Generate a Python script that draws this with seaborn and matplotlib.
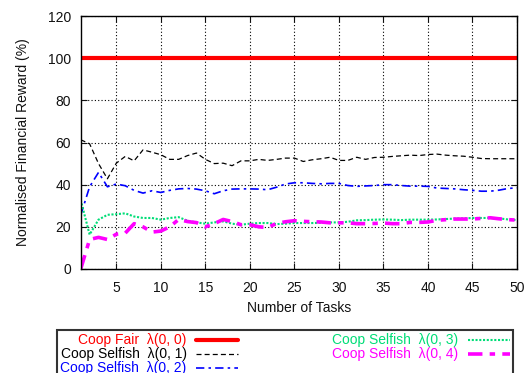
import numpy as np
import pandas as pd
import matplotlib
matplotlib.use("Agg")
import matplotlib.pyplot as plt
import seaborn as sns

tasks = list(range(1, 51))

fair = [100.0] * 50

selfish1 = [61.3, 59.4, 50.0, 42.8, 50.2, 53.4, 51.3, 56.5, 55.4, 54.2,
            52.0, 52.0, 53.8, 55.0, 52.0, 50.0, 50.2, 49.0, 51.3, 51.3,
            52.0, 51.5, 52.0, 52.6, 52.6, 51.0, 51.8, 52.3, 53.0, 51.5,
            51.5, 53.0, 52.0, 52.9, 53.0, 53.4, 53.7, 54.0, 53.8, 54.3,
            54.5, 54.0, 53.7, 53.5, 53.0, 52.4, 52.3, 52.3, 52.3, 52.3]

selfish2 = [25.5, 39.0, 45.8, 39.0, 40.3, 39.5, 37.3, 36.0, 37.1, 36.3,
            37.3, 38.0, 38.2, 37.9, 37.1, 35.7, 37.1, 37.9, 38.0, 38.0,
            37.9, 37.6, 38.8, 40.3, 40.9, 40.9, 40.6, 40.4, 40.6, 40.6,
            39.6, 39.2, 39.4, 39.6, 40.0, 40.0, 39.6, 39.3, 39.3, 39.2,
            38.4, 38.2, 38.0, 37.6, 37.3, 36.9, 36.9, 37.4, 38.2, 38.5]

selfish3 = [32.8, 16.3, 23.4, 25.7, 26.0, 26.4, 24.9, 24.2, 24.2, 23.4,
            24.2, 24.6, 22.9, 22.1, 21.5, 22.1, 22.6, 21.5, 21.0, 21.5,
            21.8, 21.8, 21.3, 21.5, 21.8, 21.8, 21.8, 21.9, 22.1, 22.1,
            22.4, 23.1, 23.2, 23.4, 23.5, 23.4, 23.2, 23.4, 23.4, 23.4,
            23.5, 23.7, 23.9, 24.0, 24.2, 24.2, 24.2, 24.0, 23.5, 23.2]

selfish4 = [0.0, 14.0, 15.0, 14.0, 16.5, 17.0, 21.5, 20.0, 17.5, 18.0,
            20.0, 23.5, 22.5, 22.0, 20.0, 21.5, 23.5, 22.5, 21.0, 21.0,
            20.0, 19.7, 21.6, 22.4, 22.9, 22.6, 22.4, 22.3, 21.9, 21.9,
            21.9, 21.5, 21.5, 21.6, 21.8, 21.5, 21.5, 22.1, 22.1, 22.3,
            23.1, 23.4, 23.7, 23.7, 23.7, 24.0, 24.3, 23.8, 23.4, 23.2]

labels = ["Coop Fair  \u03bb(0, 0)", "Coop Selfish  \u03bb(0, 1)",
          "Coop Selfish  \u03bb(0, 2)", "Coop Selfish  \u03bb(0, 3)",
          "Coop Selfish  \u03bb(0, 4)"]
series = [fair, selfish1, selfish2, selfish3, selfish4]
colors = ["#ff0000", "#000000", "#0000ff", "#00dd77", "#ff00ff"]
widths = [3.0, 0.9, 1.2, 1.5, 2.6]
styles = ["-", (0, (4, 2.5)), (0, (5, 2.5, 1.5, 2.5)), (0, (1, 0.8)), (0, (4, 2, 1.5, 2))]

xticks = [5, 10, 15, 20, 25, 30, 35, 40, 45, 50]
yticks = [0, 20, 40, 60, 80, 100, 120]

sns.set_theme(style="white")
plt.rcParams['font.family'] = ['Liberation Sans', 'DejaVu Sans']

fig = plt.figure(figsize=(5.27, 3.73), dpi=100)
ax = fig.add_axes([80.7 / 527, 1 - 269 / 373, (517 - 80.7) / 527, (269 - 16) / 373])

df = pd.DataFrame({"task": tasks})
for lab, s in zip(labels, series):
    df[lab] = s

for lab, c, w, ls in zip(labels, colors, widths, styles):
    sns.lineplot(data=df, x="task", y=lab, ax=ax, color=c, linewidth=w,
                 linestyle=ls, label=lab, legend=False)

ax.set_xlim(1, 50)
ax.set_ylim(0, 120)
ax.set_xticks(xticks)
ax.set_yticks(yticks)
ax.set_xlabel("Number of Tasks", fontsize=10, color="#111111", labelpad=4)
ax.set_ylabel("Normalised Financial Reward (%)", fontsize=10, color="#111111",
              labelpad=13)
ax.tick_params(axis="both", direction="in", length=4, width=0.8,
               top=True, right=True, bottom=True, left=True,
               labelsize=10, colors="#111111")
ax.tick_params(axis="x", pad=9)
ax.tick_params(axis="y", pad=7)
ax.grid(True, color="#000000", linestyle=(0, (1, 2)), linewidth=0.8)
for sp in ax.spines.values():
    sp.set_color("#000000")
    sp.set_linewidth(1.0)

h, l = ax.get_legend_handles_labels()
order = [0, 1, 2, 3, 4]
leg = fig.legend([h[i] for i in order], [l[i] for i in order],
                 loc="upper left",
                 bbox_to_anchor=(57 / 527, 1 - 330 / 373, (513 - 57) / 527, 0),
                 mode="expand", ncol=2, markerfirst=False, frameon=True,
                 fancybox=False, shadow=False, fontsize=10,
                 handlelength=3.0, handletextpad=0.7, labelspacing=0.0,
                 borderpad=0.25, borderaxespad=0.0, columnspacing=4.0)
leg.get_frame().set_edgecolor("#000000")
leg.get_frame().set_linewidth(1.5)
for t, c in zip(leg.get_texts(), [colors[i] for i in order]):
    t.set_color(c)

fig.savefig("out.png", dpi=100)
